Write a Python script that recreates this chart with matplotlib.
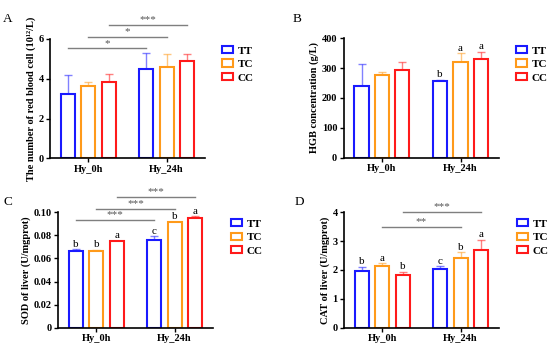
import numpy as np
import matplotlib
matplotlib.use('Agg')
import matplotlib.pyplot as plt
from matplotlib.patches import Patch

plt.rcParams['font.family'] = ['Liberation Serif', 'DejaVu Serif']

groups = ['Hy_0h', 'Hy_24h']
genotypes = ['TT', 'TC', 'CC']
colors = ['#1a1aff', '#ff9a1a', '#ff1a1a']

# values are [TT, TC, CC] for each time point
rbc_mean = [[3.22, 3.65, 3.84], [4.47, 4.61, 4.91]]
rbc_err = [[0.98, 0.20, 0.38], [0.81, 0.62, 0.34]]
rbc_letters = [['', '', ''], ['', '', '']]
rbc_sig = [(0, 5.53, '*'), (1, 6.12, '*'), (2, 6.70, '***')]

hgb_mean = [[241, 278, 293], [256, 320, 331]]
hgb_err = [[73, 10, 29], [4, 30, 23]]
hgb_letters = [['', '', ''], ['b', 'a', 'a']]
hgb_sig = []

sod_mean = [[0.0668, 0.0668, 0.0747], [0.0763, 0.0913, 0.0947]]
sod_err = [[0.0010, 0.0006, 0.0005], [0.0029, 0.0007, 0.0017]]
sod_letters = [['b', 'b', 'a'], ['c', 'b', 'a']]
sod_sig = [(0, 0.0933, '***'), (1, 0.1029, '***'), (2, 0.1130, '***')]

cat_mean = [[1.96, 2.13, 1.84], [2.05, 2.40, 2.68]]
cat_err = [[0.16, 0.10, 0.10], [0.08, 0.21, 0.37]]
cat_letters = [['b', 'a', 'b'], ['c', 'b', 'a']]
cat_sig = [(1, 3.48, '**'), (2, 4.00, '***')]

W, H = 550, 347
fig = plt.figure(figsize=(5.5, 3.47), dpi=100)

step = 0.26
width = 0.18


def panel(rect, mean, err, letters, sig, ylim, yticks, yticklabels, ylabel, letter_pos, panel_label, leg_pos):
    ax = fig.add_axes(rect)
    for g in range(2):
        for k in range(3):
            x = g + (k - 1) * step
            ax.bar(x, mean[g][k], width, facecolor='white', edgecolor=colors[k], linewidth=1.5, zorder=2)
            ax.errorbar(x, mean[g][k], yerr=[[0], [err[g][k]]], color=colors[k], alpha=0.55,
                        capsize=2.8, elinewidth=1.0, capthick=1.0, zorder=1)
            if letters[g][k]:
                ax.annotate(letters[g][k], (x, mean[g][k] + err[g][k]), xytext=(0, 0.5),
                            textcoords='offset points', ha='center', va='bottom', fontsize=8)
    for k, y, s in sig:
        x0 = (k - 1) * step
        ax.plot([x0, 1 + x0], [y, y], color='#7f7f7f', lw=1.0, clip_on=False)
        ax.annotate(s, (0.5 + x0, y), xytext=(0, 0.5), textcoords='offset points',
                    ha='center', va='bottom', fontsize=8, color='#555555', annotation_clip=False)
    ax.set_xlim(-0.49, 1.49)
    ax.set_ylim(*ylim)
    ax.set_yticks(yticks)
    ax.set_yticklabels(yticklabels, fontsize=7.5, fontweight='bold')
    ax.set_xticks([0, 1])
    ax.set_xticklabels(groups, fontsize=7.5, fontweight='bold')
    ax.spines['top'].set_visible(False)
    ax.spines['right'].set_visible(False)
    ax.spines['left'].set_linewidth(1.2)
    ax.spines['bottom'].set_linewidth(1.2)
    ax.tick_params(axis='both', length=3, width=1.0, pad=1.5)
    ax.set_ylabel(ylabel, fontsize=7.5, fontweight='bold', labelpad=2)
    fig.text(letter_pos[0] / W, 1 - letter_pos[1] / H, panel_label, fontsize=9.5, ha='center', va='center')
    handles = [Patch(facecolor='white', edgecolor=c, linewidth=1.5) for c in colors]
    fig.legend(handles, genotypes, loc='upper left', bbox_to_anchor=(leg_pos[0] / W, 1 - leg_pos[1] / H),
               frameon=False, borderpad=0, borderaxespad=0, handlelength=0.95, handleheight=0.65,
               handletextpad=0.45, labelspacing=0.35, prop={'weight': 'bold', 'size': 8})
    return ax


panel([50 / W, 1 - 158.3 / H, 155 / W, 119.3 / H], rbc_mean, rbc_err, rbc_letters, rbc_sig,
      (0, 6), [0, 2, 4, 6], ['0', '2', '4', '6'],
      'The number of red blood cell (10\u00b9\u00b2/L)', (7.5, 19), 'A', (222, 46))
panel([343.5 / W, 1 - 157.7 / H, 155.5 / W, 119.4 / H], hgb_mean, hgb_err, hgb_letters, hgb_sig,
      (0, 400), [0, 100, 200, 300, 400], ['0', '100', '200', '300', '400'],
      'HGB concentration (g/L)', (297.5, 19), 'B', (516, 46))
panel([58 / W, 1 - 327.7 / H, 155 / W, 115.4 / H], sod_mean, sod_err, sod_letters, sod_sig,
      (0, 0.10), [0, 0.02, 0.04, 0.06, 0.08, 0.10], ['0', '0.02', '0.04', '0.06', '0.08', '0.10'],
      'SOD of liver (U/mgprot)', (7.5, 202), 'C', (231, 219))
panel([344 / W, 1 - 327.7 / H, 155 / W, 115.4 / H], cat_mean, cat_err, cat_letters, cat_sig,
      (0, 4), [0, 1, 2, 3, 4], ['0', '1', '2', '3', '4'],
      'CAT of liver (U/mgprot)', (299, 202), 'D', (517, 219))

fig.savefig('out.png', dpi=100)
